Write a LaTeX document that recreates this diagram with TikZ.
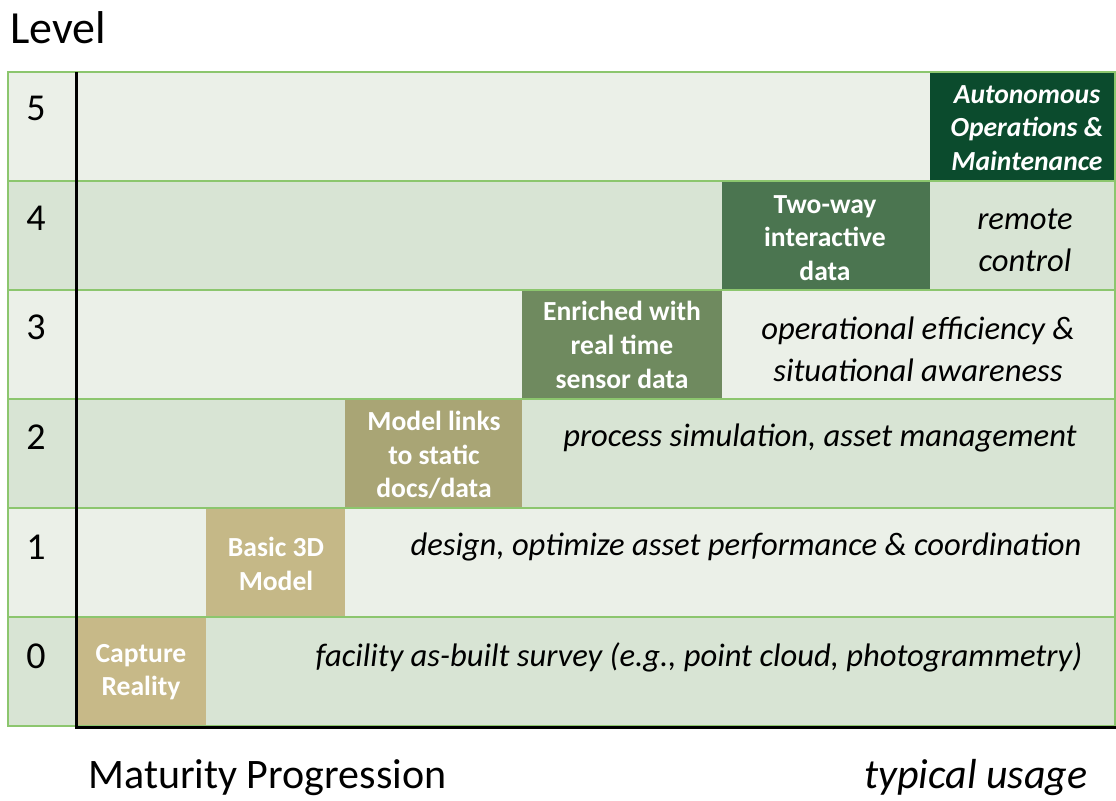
\documentclass[tikz,border=0pt]{standalone}
\usepackage{fontspec}
\setmainfont{Carlito}
\usetikzlibrary{positioning}

\definecolor{rowlight}{HTML}{EBF0E8}
\definecolor{rowdark}{HTML}{D8E4D4}
\definecolor{gridgreen}{HTML}{8CC66E}
\definecolor{stagezero}{HTML}{C7B988}
\definecolor{stageone}{HTML}{C5B887}
\definecolor{stagetwo}{HTML}{A9A575}
\definecolor{stagethree}{HTML}{6F8A5F}
\definecolor{stagefour}{HTML}{4B7550}
\definecolor{stagefive}{HTML}{0B4B2D}

\begin{document}
\begin{tikzpicture}[x=0.5pt,y=-0.5pt,
		lvl/.style={font=\fontsize{19}{22}\selectfont},
		stage/.style={font=\fontsize{13.8}{16.8}\selectfont\bfseries, text=white, align=center},
		usage/.style={font=\fontsize{16.3}{21}\selectfont\itshape, align=center},
		caption/.style={font=\fontsize{21}{25}\selectfont, inner sep=0pt}]
		\useasboundingbox (0,0) rectangle (1116,800);

		% rows
		\fill[rowlight] (8,72) rectangle (1115,181);
		\fill[rowdark] (8,181) rectangle (1115,290);
		\fill[rowlight] (8,290) rectangle (1115,399);
		\fill[rowdark] (8,399) rectangle (1115,508);
		\fill[rowlight] (8,508) rectangle (1115,617);
		\fill[rowdark] (8,617) rectangle (1115,726);

		% stage boxes
		\fill[stagezero] (77,617) rectangle (206,726);
		\fill[stageone] (206,508) rectangle (345,617);
		\fill[stagetwo] (345,399) rectangle (522,508);
		\fill[stagethree] (522,290) rectangle (722,399);
		\fill[stagefour] (722,181) rectangle (930,290);
		\fill[stagefive] (930,72) rectangle (1116,181);

		% grid
		\draw[gridgreen, line width=1pt]
			(8,72) rectangle (1115,726)
			(8,181) -- (1115,181)
			(8,290) -- (1115,290)
			(8,399) -- (1115,399)
			(8,508) -- (1115,508)
			(8,617) -- (1115,617)
		;

		% axes
		\coordinate (origin) at (76,727);
		\coordinate (top) at (76,72);
		\coordinate (right) at (1116,727);
		\draw[line width=1.5pt] (top) -- (origin) -- (right);

		\draw (10,28) node [caption, anchor=west, font=\fontsize{23}{27}\selectfont] (level) {Level};
		\draw (36,108) node [lvl] (lvlfive) {5};
		\draw (36,218) node [lvl] (lvlfour) {4};
		\draw (36,327) node [lvl] (lvlthree) {3};
		\draw (36,437) node [lvl] (lvltwo) {2};
		\draw (36,547) node [lvl] (lvlone) {1};
		\draw (36,656) node [lvl] (lvlzero) {0};

		\draw (141,672) node [stage] (capture) {Capture\\Reality};
		\draw (276,564) node [stage] (basic) {Basic 3D\\Model};
		\draw (434,455) node [stage] (links) {Model links\\to static\\docs/data};
		\draw (622,345) node [stage] (enriched) {Enriched with\\real time\\sensor data};
		\draw (825,238) node [stage] (twoway) {Two-way\\interactive\\data};
		\draw (1027,128) node [stage, font=\fontsize{13.8}{16.8}\selectfont\bfseries\itshape] (autonomous) {Autonomous\\Operations \&\\Maintenance};

		\draw (1025,240) node [usage] (remote) {remote\\control};
		\draw (918,349) node [usage] (operational) {operational efficiency \&\\situational awareness};
		\draw (820,438) node [usage] (process) {process simulation, asset management};
		\draw (746,547) node [usage] (design) {design, optimize asset performance \& coordination};
		\draw (699,657) node [usage] (facility) {facility as-built survey (e.g., point cloud, photogrammetry)};

		\draw (88,778) node [caption, anchor=west] (maturity) {Maturity Progression};
		\draw (1088,778) node [caption, anchor=east, font=\fontsize{21}{25}\selectfont\itshape] (typical) {typical usage};
	\end{tikzpicture}
\end{document}
